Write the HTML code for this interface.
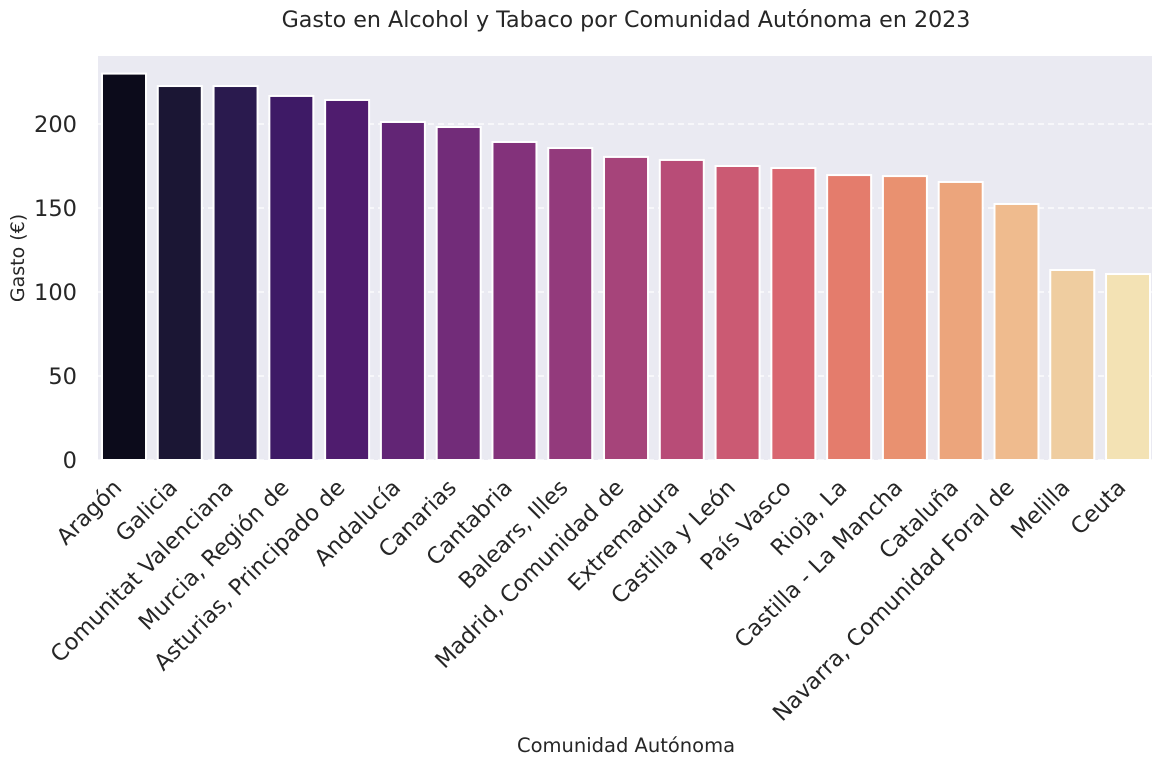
<!DOCTYPE html>
<html><head><meta charset="utf-8"><style>
html,body{margin:0;padding:0;background:#fff;}
svg{display:block;font-family:"DejaVu Sans","Liberation Sans",sans-serif;}
</style></head><body>
<svg id="chart" width="1166" height="765" viewBox="0 0 1166 765" xmlns="http://www.w3.org/2000/svg">
<text x="626" y="27" text-anchor="middle" font-size="22.2" fill="#262626">Gasto en Alcohol y Tabaco por Comunidad Autónoma en 2023</text>
<rect x="98" y="56" width="1054" height="404" fill="#eaeaf2"/>
<g id="grid"></g>
<g id="bars"></g>
<g id="yticks"></g>
<g id="xticks"></g>
<text transform="translate(24,258) rotate(-90)" text-anchor="middle" font-size="19" fill="#262626">Gasto (€)</text>
<text x="626" y="752" text-anchor="middle" font-size="19.5" fill="#262626">Comunidad Autónoma</text>
</svg>
<script>
const categories = ["Aragón","Galicia","Comunitat Valenciana","Murcia, Región de","Asturias, Principado de","Andalucía","Canarias","Cantabria","Balears, Illes","Madrid, Comunidad de","Extremadura","Castilla y León","País Vasco","Rioja, La","Castilla - La Mancha","Cataluña","Navarra, Comunidad Foral de","Melilla","Ceuta"];
const values = [230,222.6,222.6,216.7,214.3,201.2,198.2,189.3,185.7,180.4,178.6,175,173.8,169.6,169,165.5,152.4,113.1,110.7];
const yTicks = [0,50,100,150,200];
const colors = ["#0c0b1b","#1b1634","#2a1a4e","#3e1a66","#4f1c6e","#622575","#722c79","#83327b","#933a7c","#a6447a","#b84c77","#cb5a73","#d96670","#e47c6c","#e99170","#eca57c","#efbb8e","#efcda0","#f3e2b4"];
const NS="http://www.w3.org/2000/svg";
const X0=98,X1=1152,Y0=460;
const band=55.78;
function yScale(v){return Y0-v*1.68;}
function xScale(i){return 124+band*i;}
function mk(tag,attrs,parent){const e=document.createElementNS(NS,tag);for(const k in attrs)e.setAttribute(k,attrs[k]);parent.appendChild(e);return e;}
const grid=document.getElementById('grid'),bars=document.getElementById('bars'),yt=document.getElementById('yticks'),xt=document.getElementById('xticks');
yTicks.forEach(t=>{
  const y=yScale(t);
  const l=mk('line',{x1:X0,x2:X1,y1:y,y2:y,stroke:'#ffffff','stroke-width':1.3,'stroke-dasharray':'6,4'},grid);
  
  
  const tx=mk('text',{x:X0-21,y:y+8,'text-anchor':'end','font-size':22.5,fill:'#262626'},yt);
  tx.textContent=t;
  
  
});
categories.forEach((c,i)=>{
  const w=44,x=xScale(i)-w/2,y=yScale(values[i]);
  const r=mk('rect',{x:x,y:y,width:w,height:Y0-y,fill:colors[i],stroke:'#ffffff','stroke-width':2},bars);
  
  
  const t=mk('text',{transform:`translate(${xScale(i)-1},${Y0+29}) rotate(-45)`,'text-anchor':'end','font-size':22.5,fill:'#262626'},xt);
  t.textContent=c;
  
  
});
</script>
</body></html>
